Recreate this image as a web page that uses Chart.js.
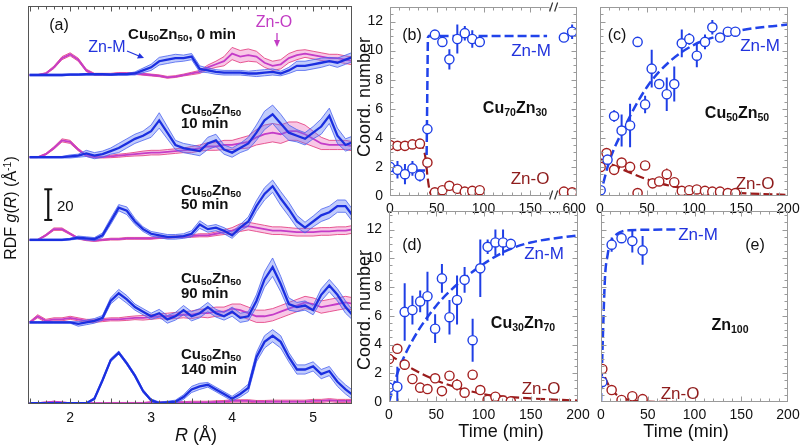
<!DOCTYPE html>
<html><head><meta charset="utf-8">
<script src="https://cdn.jsdelivr.net/npm/chart.js@4/dist/chart.umd.min.js"></script>
<style>
html,body{margin:0;padding:0;background:#fff}
body{width:802px;height:447px;overflow:hidden;position:relative;font-family:'Liberation Sans',Arial,Helvetica,sans-serif;color:#111}
.pane{position:absolute}
.t{position:absolute;white-space:nowrap;line-height:1}
.c{transform:translate(-50%,-50%)}
.l{transform:translate(0,-50%)}
.rot{transform:translate(-50%,-50%) rotate(-90deg)}
.b{font-weight:bold}
sub{font-size:0.66em;vertical-align:-0.3em;line-height:0}
sup{font-size:0.66em;vertical-align:0.5em;line-height:0}
.zm{color:#2233dd}.zo{color:#8e1c1c}.zop{color:#c23cc4}
</style></head><body>
<div class="pane" style="left:0;top:0;width:360px;height:447px"><canvas id="ca"></canvas></div>
<div class="pane" style="left:350px;top:0;width:250px;height:225px"><canvas id="cb"></canvas></div>
<div class="pane" style="left:580px;top:0;width:222px;height:225px"><canvas id="cc"></canvas></div>
<div class="pane" style="left:350px;top:205px;width:250px;height:242px"><canvas id="cd"></canvas></div>
<div class="pane" style="left:580px;top:205px;width:222px;height:242px"><canvas id="ce"></canvas></div>

<!-- panel (a) text -->
<div class="t c" style="left:59px;top:25px;font-size:16px">(a)</div>
<div class="t c b" style="left:182px;top:33px;font-size:15px">Cu<sub>50</sub>Zn<sub>50</sub>, 0 min</div>
<div class="t c zm" style="left:107px;top:47px;font-size:16px">Zn-M</div>
<div class="t c zop" style="left:274px;top:22px;font-size:16px">Zn-O</div>
<div class="t l b" style="left:181px;top:108px;font-size:15px">Cu<sub>50</sub>Zn<sub>50</sub></div>
<div class="t l b" style="left:181px;top:122px;font-size:15px">10 min</div>
<div class="t l b" style="left:181px;top:189px;font-size:15px">Cu<sub>50</sub>Zn<sub>50</sub></div>
<div class="t l b" style="left:181px;top:203px;font-size:15px">50 min</div>
<div class="t l b" style="left:181px;top:277px;font-size:15px">Cu<sub>50</sub>Zn<sub>50</sub></div>
<div class="t l b" style="left:181px;top:292px;font-size:15px">90 min</div>
<div class="t l b" style="left:181px;top:353px;font-size:15px">Cu<sub>50</sub>Zn<sub>50</sub></div>
<div class="t l b" style="left:181px;top:368px;font-size:15px">140 min</div>
<div class="t l" style="left:57px;top:205px;font-size:15px">20</div>
<div class="t rot" style="left:11px;top:208px;font-size:16px">RDF <i>g</i>(<i>R</i>) (Å<sup>-1</sup>)</div>
<div class="t c" style="left:196px;top:435px;font-size:18px"><i>R</i> (Å)</div>

<!-- panel (b) -->
<div class="t c" style="left:412px;top:35px;font-size:16px">(b)</div>
<div class="t c zm" style="left:531px;top:50px;font-size:17px">Zn-M</div>
<div class="t c zo" style="left:530px;top:178px;font-size:17px">Zn-O</div>
<div class="t c b" style="left:515px;top:108px;font-size:16px">Cu<sub>70</sub>Zn<sub>30</sub></div>
<div class="t rot" style="left:364px;top:97px;font-size:18px">Coord. number</div>
<!-- panel (c) -->
<div class="t c" style="left:617px;top:35px;font-size:16px">(c)</div>
<div class="t c zm" style="left:760px;top:45px;font-size:17px">Zn-M</div>
<div class="t c zo" style="left:755px;top:183px;font-size:17px">Zn-O</div>
<div class="t c b" style="left:737px;top:113px;font-size:16px">Cu<sub>50</sub>Zn<sub>50</sub></div>
<!-- panel (d) -->
<div class="t c" style="left:412px;top:245px;font-size:16px">(d)</div>
<div class="t c zm" style="left:544px;top:253px;font-size:17px">Zn-M</div>
<div class="t c zo" style="left:541px;top:388px;font-size:17px">Zn-O</div>
<div class="t c b" style="left:523px;top:323px;font-size:16px">Cu<sub>30</sub>Zn<sub>70</sub></div>
<div class="t rot" style="left:364px;top:310px;font-size:18px">Coord. number</div>
<div class="t c" style="left:501px;top:431px;font-size:18px">Time (min)</div>
<!-- panel (e) -->
<div class="t c zm" style="left:698px;top:234px;font-size:17px">Zn-M</div>
<div class="t c" style="left:755px;top:245px;font-size:16px">(e)</div>
<div class="t c b" style="left:730px;top:325px;font-size:16px">Zn<sub>100</sub></div>
<div class="t c zo" style="left:680px;top:393px;font-size:17px">Zn-O</div>
<div class="t c" style="left:686px;top:431px;font-size:18px">Time (min)</div>

<svg style="position:absolute;left:0;top:0;pointer-events:none" width="802" height="447">
  <line x1="127" y1="51" x2="139" y2="56" stroke="#2233dd" stroke-width="1.3"/>
  <polygon points="144,58 137,58.5 139.5,53" fill="#2233dd"/>
  <line x1="277" y1="33" x2="277" y2="42" stroke="#c23cc4" stroke-width="1.3"/>
  <polygon points="277,47 274,40 280,40" fill="#c23cc4"/>
</svg>

<script>
// ---------------- DATA: panel (a) RDF, R grid (Å) ----------------
const R_GRID = [1.5,1.6,1.7,1.8,1.9,2.0,2.1,2.2,2.3,2.4,2.5,2.6,2.7,2.8,2.9,3.0,3.1,3.2,3.3,3.4,3.5,3.6,3.7,3.8,3.9,4.0,4.1,4.2,4.3,4.4,4.5,4.6,4.7,4.8,4.9,5.0,5.1,5.2,5.3,5.4,5.5];
const R_TICKS = [2,3,4,5];
const R_TICK_LABELS = ['2','3','4','5'];
const CURVE_NAMES = ['0 min','10 min','50 min','90 min','140 min'];

// Zn-M (blue) g(R)
const ZNM_0   = [0,0,0,0,0,0.3,0.3,0.5,0.5,0.5, 0.3,0.5,0.5,1,3,5,9,10,11,11, 12,4,3,2,1.5,1.5,1.5,1,1,1.5, 2,1,3,6,6,7,8,9,8,10, 12];
const ZNM_0_ERR=[0.5,0.5,0.5,0.5,0.5,0.5,0.5,0.5,0.5,0.5, 0.5,0.5,0.5,1,1.5,2,2.5,2.5,2.5,2, 2,2,1.5,1.5,1.5,1.5,1.5,1.5,2,2, 2,1.5,2,3,3,3,3,2.5,3,3, 3];
const ZNM_10  = [0,0,0,0,0,0.5,1,2.5,1,2, 4,6,9,12,14,17,24,16,8,6, 5,4,9,11,5,3,6,9,16,24, 28,22,16,14,12,16,20,27,14,8, 10];
const ZNM_10_ERR=[0.5,0.5,0.5,0.5,0.5,1,1,2,2,2, 2,3,3,3,3,4,5,4,3,3, 3,3,4,4,3,3,3,4,5,6, 6,6,5,4,4,4,5,5,5,4, 4];
const ZNM_50  = [0,0,0,0,0,0.5,1.5,1,0.5,3, 12,21,19,12,7,4,3,2,2,2.5, 4,10,7,8,6,3,8,12,22,30, 35,27,20,12,8,12,16,18,22,22, 15];
const ZNM_50_ERR=[0.5,0.5,0.5,0.5,0.5,0.5,1,1,1,1.5, 2,2,2.5,2,1.5,1.5,1.5,1.5,1.5,1.5, 2,2.5,2,2,2,2,2,3,3.5,4, 4,4.5,4.5,4,3.5,3.5,4,4,4,4, 4];
const ZNM_90  = [0,0,0,0,0,0,-1,0,1,3, 14,19,15,10,7,4,6,2,4,8, 4,6,10,6,4,7,3,4,14,28, 36,25,12,10,11,8,18,24,18,10, 4];
const ZNM_90_ERR=[0.5,0.5,0.5,0.5,0.5,0.5,1.5,1.5,1.5,1.5, 2,2.5,2.5,2,2,2,2.5,2.5,2.5,3, 3,3,3,2.5,2.5,3,3,3,4,5, 6,5,4,3,3,3,4,4,4,4, 3];
const ZNM_140 = [0,0,0,0,0,0,0,0,3,15, 28,33,26,18,8,2,0,0.5,1,4, 9,11,12,9,6,3,6,10,30,40, 44,40,30,22,22,24,19,21,14,9, 5];
const ZNM_140_ERR=[0.3,0.3,0.3,0.3,0.3,0.3,0.3,0.3,0.8,1, 1,1,1,1,1,0.8,0.8,0.8,1,1.5, 2,2,1.5,1.5,1.5,1.5,2,2.5,3,4, 4,4,3,3,3,3,3,3,3,3, 3];
// Zn-O (pink) g(R)
const ZNO_0   = [0,0,1,5,11,13.5,10,3,0.5,0.5, 0.5,1,1,1,0.5,0,-0.5,-1.5,-1,0, 1,2,5,7,9,14,12,13,12,8, 6,7,11,13,14,13,12,11,11,10, 9];
const ZNO_0_ERR=[0.3,0.3,0.5,0.8,1,1,1,0.8,0.6,0.6, 0.6,0.6,0.6,0.6,0.6,0.6,0.6,0.6,0.6,0.6, 0.8,1,1.5,2,3,4,4,4,3.5,3, 3,3,3,3,2.5,2.5,2.5,2.5,2.5,2.5, 2.5];
const ZNO_10  = [0,0,2,6,11,10,5,1,0,0, 0.5,1,1.5,2,2.5,3,3,3.5,4,4.5, 5,6,7,7,8,8,9,10,13,15, 16,15,17,17,15,12,9,8,8,8, 7];
const ZNO_10_ERR=[0.3,0.3,0.5,0.8,1,1,0.8,0.5,0.5,0.5, 0.8,1,1,1.2,1.5,1.5,1.5,1.5,1.5,1.5, 2,2,2.5,2.5,3,3,3.5,4,5,6, 6,6,6,6,6,5,4,3,3,3, 3];
const ZNO_50  = [0,0,3,7,7,4,1,0,-0.5,0, 0.5,0.5,1,1,1,1,1.5,1.5,2,2, 2.5,3,3,4,5,6,8,9,8,7, 6,6,5.5,5,5,5,5.5,5.5,6,6, 7];
const ZNO_50_ERR=[0.3,0.3,0.6,0.8,0.8,0.6,0.5,0.5,0.5,0.5, 0.6,0.6,0.6,0.6,0.6,0.6,0.6,0.6,0.6,0.6, 0.8,1,1,1.2,1.5,2,2.5,2.5,2.5,2.5, 2.5,2.5,2.5,2.5,2.5,2.5,2.5,2.5,2.5,2.5, 2.5];
const ZNO_90  = [0,4,1,2,2,3,2,1,1,1.5, 2,2,2.5,3,3,3.5,4,4,4.5,5, 5,6,6,7,7,9,8,6,4,4, 5,7,9,11,13,12,10,11,12,13, 12];
const ZNO_90_ERR=[0.5,1,1,1,1,1,1,1,1,1, 1,1,1.2,1.2,1.5,1.5,1.5,2,2,2, 2.5,2.5,3,3,3,3,4,4,4,4, 4,4,4,4,4,4,4,4,4,4, 4];
const ZNO_140 = [0,0,0.5,1,0.5,0,0,0,0,0, 0,0,0,0,0,0.5,0.5,0.5,0.5,0.5, 0.5,0.5,0.5,0.8,1,1.5,1.5,1.5,1,1, 1,1,1,1,1,1.5,1.5,2,1.5,1.5, 1.5];
const ZNO_140_ERR=[0.3,0.3,0.3,0.3,0.3,0.3,0.3,0.3,0.3,0.3, 0.5,0.5,0.5,0.5,0.5,0.5,0.5,0.5,0.5,0.5, 0.8,0.8,0.8,0.8,0.8,0.8,0.8,0.8,0.8,0.8, 1,1,1,1,1,1,1,1,1,1, 1];
const SCALE_BAR_UNITS = 20;

// ---------------- DATA: panels (b)-(e), coordination numbers ----------------
const CN_TICKS = [0,2,4,6,8,10,12];
const CN_TICK_LABELS = ['0','2','4','6','8','10','12'];
const TIME_TICKS = [0,50,100,150,200];
const TIME_TICK_LABELS = ['0','50','100','150','200'];
const B_TIME_TICKS = [0,50,100,150,600];
const B_TIME_TICK_LABELS = ['0','50','100','150','...','600'];

// (b) Cu70Zn30
const B_ZNM_T   = [0,8,16,24,32,40,48,56,63.5,72,80,88,96,585,597];
const B_ZNM     = [2.0,1.8,1.5,1.9,1.4,4.6,11.1,10.6,9.4,10.8,11.2,10.8,10.6,10.9,11.3];
const B_ZNM_ERR = [0.6,0.6,0.7,0.5,0.4,0.3,0.3,0.3,0.7,1.0,0.5,0.6,0.3,0.3,0.5];
const B_ZNO_T   = [0,8,16,24,32,40,48,56,63.5,72,80,88,96,585,597];
const B_ZNO     = [3.5,3.45,3.45,3.55,3.6,2.3,0.25,0.4,0.7,0.5,0.3,0.35,0.4,0.3,0.25];
const B_ZNO_ERR = [0.15,0.15,0.15,0.15,0.15,0.2,0.1,0.1,0.15,0.1,0.1,0.1,0.1,0.1,0.1];
const B_FIT_ZNM_T = [0,39,40.5,41.5,168];
const B_FIT_ZNM   = [1.75,1.75,10.9,11,11];
const B_FIT_ZNO_T = [0,33,36,38,40,42,44,47,168];
const B_FIT_ZNO   = [3.5,3.45,3.2,2.6,1.4,0.5,0.1,0,0];

// (c) Cu50Zn50
const C_ZNM_T   = [0.7,8,15,23,32,40,48,55,63,71,79,87,95,103,111.7,119.5,127.7,136,144];
const C_ZNM     = [0.4,2.5,5.5,4.5,4.85,10.6,6.3,8.76,7.7,7.0,7.7,10.5,10.8,9.65,10.6,11.6,10.9,11.3,11.3];
const C_ZNM_ERR = [0.2,0.3,0.4,1.1,1.5,0.3,0.6,1.3,0.3,1.15,1.2,0.95,0.4,0.8,0.5,0.5,0.2,0.3,0.2];
const C_ZNO_T   = [0.7,7,15,23,32,40,48,56,63,71,79,87,95,103,111.7,119.5,127.7,136,144];
const C_ZNO     = [2.0,2.95,1.8,2.3,2.0,0.2,2.1,0.87,1.0,1.5,0.95,0.35,0.4,0.45,0.35,0.3,0.3,0.2,0.2];
const C_ZNO_ERR = [0.2,0.2,0.2,0.2,0.2,0.2,0.25,0.2,0.2,0.4,0.2,0.15,0.15,0.15,0.15,0.15,0.15,0.15,0.15];
const C_FIT_ZNM_T = [0,10,25,50,75,100,125,150,200];
const C_FIT_ZNM   = [0,2.4,4.6,7.5,9.3,10.4,11.0,11.4,11.8];
const C_FIT_ZNO_T = [0,25,50,75,100,150,200];
const C_FIT_ZNO   = [2.55,1.8,1.15,0.7,0.45,0.2,0.08];

// (d) Cu30Zn70
const D_ZNM_T   = [0,8.8,16.6,24.8,33,40.7,48.8,56,64,72,80,88.5,96.6,104.4,112.6,120.7,128.9];
const D_ZNM     = [1.0,1.06,6.27,6.4,7.0,7.36,5.1,8.6,5.9,7.1,8.5,4.3,9.3,10.8,11.1,11.1,11.0];
const D_ZNM_ERR = [0.4,1.4,2.0,1.0,0.75,1.7,1.0,1.0,1.2,1.7,0.9,1.5,2.0,0.5,0.9,0.9,0.3];
const D_ZNO_T   = [0,8.8,16.6,24.8,33,40.7,48.8,56,64,72,80,88.5,96.6,104.4,112.6,120.7,128.9];
const D_ZNO     = [3.0,3.7,2.6,1.6,1.0,0.9,1.65,0.76,1.83,1.2,0.65,1.9,0.83,0.15,0.37,0.1,0.05];
const D_ZNO_ERR = [0.3,0.3,0.35,0.3,0.2,0.2,0.3,0.2,0.2,0.4,0.2,0.3,0.3,0.1,0.2,0.1,0.1];
const D_FIT_ZNM_T = [0,10,25,50,75,100,125,150,200];
const D_FIT_ZNM   = [0,2.2,4.3,6.7,8.35,9.6,10.55,11.1,11.6];
const D_FIT_ZNO_T = [0,25,50,75,100,150,200];
const D_FIT_ZNO   = [3.3,2.3,1.5,0.95,0.55,0.25,0.1];

// (e) Zn100
const E_ZNM_T   = [1.4,11.4,22,33.5,44.5];
const E_ZNM     = [1.4,10.95,11.4,11.2,10.55];
const E_ZNM_ERR = [0.3,0.5,0.3,0.8,1.0];
const E_ZNO_T   = [1.4,11.4,22,33.5,44.5];
const E_ZNO     = [2.3,0.83,0.14,0.4,0.2];
const E_ZNO_ERR = [0.2,0.15,0.1,0.15,0.1];
const E_FIT_ZNM_T = [0,2,4.3,7,9.6,14,20,30,81];
const E_FIT_ZNM   = [0,4.5,8.7,10.2,11.0,11.5,11.8,11.95,12.0];
const E_FIT_ZNO_T = [0,5,11.4,22,35,50,81];
const E_FIT_ZNO   = [2.6,1.6,0.85,0.3,0.1,0.03,0];

// ---------------- layout / style ----------------
const A_OFFSETS = [214,160.4,106.5,52.7,0];   // vertical stacking of the five RDF curves
const SCALE_BAR_BASE = 119.5, SCALE_BAR_R = 1.73;
const BREAK_AT = 175;                         // broken time axis of panel (b)
const bx = t => t <= 200 ? t : BREAK_AT + (t - 570) * 0.733;
const id = t => t;

Chart.defaults.font.family = "'Liberation Sans', Arial, Helvetica, sans-serif";
Chart.defaults.font.size = 14;
Chart.defaults.color = '#111';
Chart.defaults.animation = false;
Chart.defaults.plugins.legend.display = false;
Chart.defaults.plugins.tooltip.enabled = false;

const framePlugin = {
  id: 'frame',
  afterDatasetsDraw(chart, args, o) {
    if (!o || !o.on) return;
    const ctx = chart.ctx, a = chart.chartArea, xs = chart.scales.x, ys = chart.scales.y;
    ctx.save();
    ctx.strokeStyle = o.color; ctx.lineWidth = 1;
    const L = Math.round(a.left)+0.5, R = Math.round(a.right)-0.5, T = Math.round(a.top)+0.5, B = Math.round(a.bottom)-0.5;
    ctx.strokeRect(L, T, R-L, B-T);
    ctx.beginPath();
    if (o.x) {
      for (let i = o.x.from; i <= o.x.to; i++) {
        const v = i * o.x.step; const len = (i % o.x.every === 0) ? 5 : 3;
        const p = Math.round(xs.getPixelForValue(v)) + 0.5;
        if (p < L || p > R) continue;
        ctx.moveTo(p, B); ctx.lineTo(p, B - len);
        ctx.moveTo(p, T); ctx.lineTo(p, T + len);
      }
    }
    if (o.y) {
      for (let j = o.y.from; j <= o.y.to; j++) {
        const v = j * o.y.step; const len = (j % o.y.every === 0) ? 5 : 3;
        const p = Math.round(ys.getPixelForValue(v)) + 0.5;
        if (p < T || p > B) continue;
        ctx.moveTo(L, p); ctx.lineTo(L + len, p);
        ctx.moveTo(R, p); ctx.lineTo(R - len, p);
      }
    }
    ctx.stroke();
    if (o.breakAt !== undefined) {
      const px = xs.getPixelForValue(o.breakAt);
      [T, B].forEach(yy => {
        ctx.fillStyle = '#fff'; ctx.fillRect(px - 4, yy - 2, 9, 4);
        ctx.strokeStyle = '#333'; ctx.lineWidth = 1.2;
        ctx.beginPath();
        ctx.moveTo(px - 4, yy + 4); ctx.lineTo(px - 1, yy - 5);
        ctx.moveTo(px + 1, yy + 4); ctx.lineTo(px + 4, yy - 5);
        ctx.stroke();
      });
    }
    ctx.restore();
  }
};
Chart.register(framePlugin);

// ---------------- panel (a) ----------------
(function(){
  const ZNM = [ZNM_0, ZNM_10, ZNM_50, ZNM_90, ZNM_140];
  const ZNM_E = [ZNM_0_ERR, ZNM_10_ERR, ZNM_50_ERR, ZNM_90_ERR, ZNM_140_ERR];
  const ZNO = [ZNO_0, ZNO_10, ZNO_50, ZNO_90, ZNO_140];
  const ZNO_E = [ZNO_0_ERR, ZNO_10_ERR, ZNO_50_ERR, ZNO_90_ERR, ZNO_140_ERR];
  const ds = [];
  ds.push({ label:'scale bar '+SCALE_BAR_UNITS,
    data:[{x:SCALE_BAR_R,y:SCALE_BAR_BASE},{x:SCALE_BAR_R,y:SCALE_BAR_BASE+SCALE_BAR_UNITS}],
    borderColor:'#111', borderWidth:2.2, pointStyle:'line', pointRadius:4, pointBorderWidth:2, pointBorderColor:'#111', order:0 });
  function group(mean, err, off, st, order, name){
    const mid = {label:name, data:R_GRID.map((r,i)=>({x:r,y:mean[i]+off})), borderColor:st.line, borderWidth:st.lw, pointRadius:0, tension:0, fill:false, order};
    const iUp = ds.length + 1;
    const up = {label:name+' +', data:R_GRID.map((r,i)=>({x:r,y:mean[i]+err[i]+off})), borderColor:st.edge, borderWidth:0.8, pointRadius:0, tension:0, fill:false, order};
    const lo = {label:name+' -', data:R_GRID.map((r,i)=>({x:r,y:mean[i]-err[i]+off})), borderColor:st.edge, borderWidth:0.8, pointRadius:0, tension:0, fill:iUp, backgroundColor:st.fill, order};
    ds.push(mid, up, lo);
  }
  const blue = {line:'#1b2fe0', edge:'#4a62f0', fill:'rgba(95,120,245,0.38)', lw:2.3};
  const pink = {line:'#c43cc8', edge:'#e2357a', fill:'rgba(236,110,190,0.38)', lw:1.8};
  for (let k = 0; k < 5; k++) {
    group(ZNM[k], ZNM_E[k], A_OFFSETS[k], blue, 1, 'Zn-M '+CURVE_NAMES[k]);
  }
  for (let k = 0; k < 5; k++) {
    group(ZNO[k], ZNO_E[k], A_OFFSETS[k], pink, 2, 'Zn-O '+CURVE_NAMES[k]);
  }
  new Chart(document.getElementById('ca'), {
    type:'line', data:{datasets:ds},
    options:{responsive:true, maintainAspectRatio:false,
      layout:{padding:{left:0,top:4,right:8,bottom:0}},
      scales:{
        x:{type:'linear', min:1.48, max:5.48, grid:{display:false, drawTicks:false}, border:{display:false},
           afterBuildTicks:s=>{s.ticks = R_TICKS.map(v=>({value:v}));},
           ticks:{autoSkip:false, maxRotation:0, padding:6, font:{size:14}, callback:(v,i)=>R_TICK_LABELS[i]},
           afterFit:s=>{s.height=43; s.paddingLeft=0; s.paddingRight=0;}},
        y:{type:'linear', min:-0.5, max:259, grid:{display:false, drawTicks:false}, border:{display:false},
           ticks:{display:false},
           afterFit:s=>{s.width=28; s.paddingTop=0; s.paddingBottom=0;}}
      },
      plugins:{frame:{on:true, color:'#555', x:{from:15, to:55, step:0.1, every:5}}}
    }
  });
})();

// ---------------- panels (b)-(e) ----------------
const BLUE = '#1f3fe6', RED = '#a31f1f', BLUE_FIT = '#2143ea', RED_FIT = '#9a1c1c';
function circles(T, V, map, color, name){
  return {label:name, data:T.map((t,i)=>({x:map(t),y:V[i]})), showLine:false, pointRadius:4.6,
    pointBorderWidth:1.4, pointBorderColor:color, pointBackgroundColor:'#fff', pointStyle:'circle', borderColor:color, order:0};
}
function errbars(T, V, E, map, color, w, name){
  const d = [];
  T.forEach((t,i)=>{ d.push({x:map(t),y:V[i]-E[i]},{x:map(t),y:V[i]+E[i]},{x:map(t),y:null}); });
  return {label:name, data:d, borderColor:color, borderWidth:w, pointRadius:0, spanGaps:false, fill:false, order:1};
}
function fitline(T, V, map, color, dash, w, mode, name){
  const o = {label:name, data:T.map((t,i)=>({x:map(t),y:V[i]})), borderColor:color, borderWidth:w, borderDash:dash,
    pointRadius:0, fill:false, order:2};
  if (mode === 'monotone') o.cubicInterpolationMode = 'monotone'; else o.tension = 0;
  return o;
}
function panel(canvasId, P){
  const map = P.map || id;
  const ds = [
    circles(P.mT, P.m, map, BLUE, 'Zn-M'),
    circles(P.oT, P.o, map, RED, 'Zn-O'),
    errbars(P.mT, P.m, P.mE, map, BLUE, 2, 'Zn-M err'),
    errbars(P.oT, P.o, P.oE, map, RED, 1.5, 'Zn-O err'),
    fitline(P.fmT, P.fm, map, BLUE_FIT, [9,4], 2.5, P.fitMode, 'Zn-M fit'),
    fitline(P.foT, P.fo, map, RED_FIT, [9,4], 2.2, 'monotone', 'Zn-O fit')
  ];
  new Chart(document.getElementById(canvasId), {
    type:'line', data:{datasets:ds},
    options:{responsive:true, maintainAspectRatio:false,
      layout:{padding:{left:0, top:P.top, right:P.right, bottom:0}},
      scales:{
        x:{type:'linear', min:0, max:200, grid:{display:false, drawTicks:false}, border:{display:false},
           afterBuildTicks:s=>{s.ticks = P.xTicks.map(v=>({value:v}));},
           ticks:{autoSkip:false, maxRotation:0, padding:5, font:{size:14}, callback:(v,i)=>P.xLabels[i]},
           afterFit:s=>{s.height=P.xh; s.paddingLeft=0; s.paddingRight=0;}},
        y:{type:'linear', min:0, max:P.ymax, grid:{display:false, drawTicks:false}, border:{display:false},
           afterBuildTicks:s=>{s.ticks = CN_TICKS.map(v=>({value:v}));},
           ticks:{display:P.ylab, padding:7, font:{size:14}, callback:(v,i)=>CN_TICK_LABELS[i]},
           afterFit:s=>{s.width=P.yw; s.paddingTop=0; s.paddingBottom=0;}}
      },
      plugins:{frame:{on:true, color:'#9a9a9a', x:{from:0, to:P.xMinorTo, step:10, every:5},
                      y:{from:0, to:26, step:0.5, every:4}, breakAt:P.breakAt}}
    }
  });
}
const bTicks = B_TIME_TICKS.slice(0,4).map(bx).concat([BREAK_AT, bx(B_TIME_TICKS[4])]);
panel('cb', {mT:B_ZNM_T, m:B_ZNM, mE:B_ZNM_ERR, oT:B_ZNO_T, o:B_ZNO, oE:B_ZNO_ERR,
  fmT:B_FIT_ZNM_T, fm:B_FIT_ZNM, foT:B_FIT_ZNO_T, fo:B_FIT_ZNO, fitMode:'linear', map:bx,
  top:7, right:23, xh:29, yw:40, ymax:13, ylab:true, xTicks:bTicks, xLabels:B_TIME_TICK_LABELS, xMinorTo:17, breakAt:BREAK_AT});
panel('cc', {mT:C_ZNM_T, m:C_ZNM, mE:C_ZNM_ERR, oT:C_ZNO_T, o:C_ZNO, oE:C_ZNO_ERR,
  fmT:C_FIT_ZNM_T, fm:C_FIT_ZNM, foT:C_FIT_ZNO_T, fo:C_FIT_ZNO, fitMode:'monotone',
  top:7, right:14, xh:29, yw:20, ymax:13, ylab:false, xTicks:TIME_TICKS, xLabels:TIME_TICK_LABELS, xMinorTo:20});
panel('cd', {mT:D_ZNM_T, m:D_ZNM, mE:D_ZNM_ERR, oT:D_ZNO_T, o:D_ZNO, oE:D_ZNO_ERR,
  fmT:D_FIT_ZNM_T, fm:D_FIT_ZNM, foT:D_FIT_ZNO_T, fo:D_FIT_ZNO, fitMode:'monotone',
  top:6, right:22, xh:45, yw:39, ymax:13.29, ylab:true, xTicks:TIME_TICKS, xLabels:TIME_TICK_LABELS, xMinorTo:20});
panel('ce', {mT:E_ZNM_T, m:E_ZNM, mE:E_ZNM_ERR, oT:E_ZNO_T, o:E_ZNO, oE:E_ZNO_ERR,
  fmT:E_FIT_ZNM_T, fm:E_FIT_ZNM, foT:E_FIT_ZNO_T, fo:E_FIT_ZNO, fitMode:'monotone',
  top:6, right:14, xh:45, yw:21, ymax:13.29, ylab:false, xTicks:TIME_TICKS, xLabels:TIME_TICK_LABELS, xMinorTo:20});
</script>
</body></html>
